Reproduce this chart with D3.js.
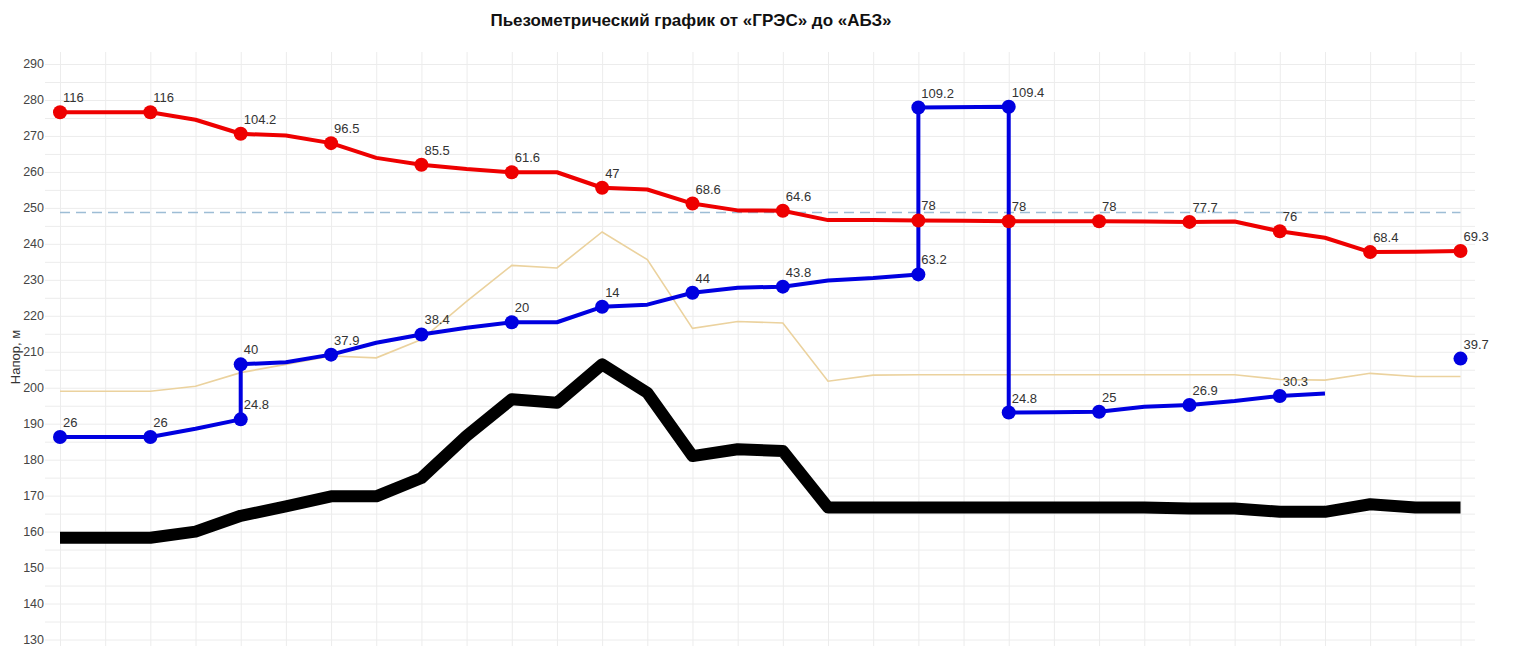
<!DOCTYPE html>
<html>
<head>
<meta charset="utf-8">
<script src="https://cdn.jsdelivr.net/npm/d3@7/dist/d3.min.js"></script>
<style>
  body { margin: 0; background: #fff; }
  text { font-family: "Liberation Sans", Arial, sans-serif; }
</style>
</head>
<body>
<svg id="chart"></svg>
<script>
// Пьезометрический график

// positions along the route (node index)
const nodes = d3.range(32);

// supply line head, m
const supplyHead = [276.6, 276.6, 276.6, 274.5, 270.6, 270.1, 268.0, 263.9, 262.0, 260.8,
                    259.9, 259.9, 255.6, 255.1, 251.2, 249.3, 249.2, 246.6, 246.6, 246.5,
                    246.4, 246.3, 246.3, 246.3, 246.2, 246.1, 246.2, 243.5, 241.7, 237.7,
                    237.8, 238.0];
const supplyMarks = [0, 2, 4, 6, 8, 10, 12, 14, 16, 19, 21, 23, 25, 27, 29, 31];
const supplyLabels = ["116", "116", "104.2", "96.5", "85.5", "61.6", "47", "68.6", "64.6",
                      "78", "78", "78", "77.7", "76", "68.4", "69.3"];

// return line head, m (repeated node = vertical jump, null = break)
const returnNodes = [0, 1, 2, 3, 4, 4, 5, 6, 7, 8, 9, 10, 11, 12, 13, 14, 15, 16, 17, 18, 19,
                     19, 21, 21, 22, 23, 24, 25, 26, 27, 28, 30, 31];
const returnHead = [186.3, 186.3, 186.3, 188.6, 191.2, 206.5, 207.1, 209.2, 212.5, 214.8, 216.7,
                    218.2, 218.2, 222.5, 223.1, 226.4, 227.8, 228.1, 229.8, 230.5, 231.5,
                    277.9, 278.1, 193.1, 193.2, 193.3, 194.7, 195.2, 196.3, 197.7, 198.4,
                    null, 208.1];
const returnMarks = [0, 2, 4, 5, 7, 9, 11, 13, 15, 17, 20, 21, 22, 23, 25, 27, 29, 32]; // positions in returnNodes
const returnLabels = ["26", "26", "24.8", "40", "37.9", "38.4", "20", "14", "44", "43.8",
                      "63.2", "109.2", "109.4", "24.8", "25", "26.9", "30.3", "39.7"];

// ground profile, m
const ground = [158.3, 158.3, 158.3, 160.0, 164.4, 167.0, 169.8, 169.8, 174.9, 186.6,
                196.8, 195.8, 206.5, 198.6, 181.0, 182.9, 182.4, 166.7, 166.7, 166.7,
                166.7, 166.7, 166.7, 166.7, 166.7, 166.4, 166.4, 165.5, 165.5, 167.6,
                166.7, 166.7];

// thin line (ground + building height), m
const buildings = [199.0, 199.0, 199.0, 200.4, 204.2, 206.5, 208.8, 208.3, 213.4, 224.0,
                   234.0, 233.3, 243.3, 235.6, 216.5, 218.4, 218.0, 201.8, 203.5, 203.6,
                   203.6, 203.6, 203.6, 203.6, 203.6, 203.6, 203.6, 202.3, 202.1, 204.0,
                   203.1, 203.1];

// static head level, m
const staticHead = 248.7;

const yTicks = d3.range(130, 300, 10);

const W = 1515, H = 646;
const plot = { left: 45, right: 1475, top: 52, bottom: 646 };

const svg = d3.select("#chart")
              .attr("width", W)
              .attr("height", H);

const x = d3.scaleLinear()
            .domain([0, 31])
            .range([60, 1460.5]);

const y = d3.scaleLinear()
            .domain([130, 290])
            .range([639.5, 64]);

// grid
svg.append("g")
   .attr("transform", `translate(${plot.left},0)`)
   .call(d3.axisLeft(y).tickValues(d3.range(130, 295, 5)).tickSize(-(plot.right - plot.left)).tickFormat(""))
   .call(g => g.select(".domain").remove())
   .selectAll("line")
   .attr("stroke", "#ececec");

svg.append("g")
   .attr("transform", `translate(0,${plot.top})`)
   .call(d3.axisTop(x).tickValues(nodes).tickSize(-(plot.bottom - plot.top)).tickFormat(""))
   .call(g => g.select(".domain").remove())
   .selectAll("line")
   .attr("stroke", "#ececec");

// y axis labels
svg.append("g")
   .attr("transform", "translate(47,0)")
   .call(d3.axisLeft(y).tickValues(yTicks).tickSize(0).tickPadding(3))
   .call(g => g.select(".domain").remove())
   .selectAll("text")
   .attr("fill", "#444")
   .attr("dy", "0.3em")
   .style("font-size", "12.5px");

svg.append("text")
   .attr("transform", "translate(20,357) rotate(-90)")
   .attr("text-anchor", "middle")
   .attr("fill", "#333")
   .style("font-size", "13px")
   .text("Напор, м");

// title
svg.append("text")
   .attr("x", 691)
   .attr("y", 26)
   .attr("text-anchor", "middle")
   .attr("fill", "#111")
   .style("font-size", "17px")
   .style("font-weight", "bold")
   .text("Пьезометрический график от «ГРЭС» до «АБЗ»");

const line = d3.line()
               .defined(d => d[1] !== null)
               .x(d => x(d[0]))
               .y(d => y(d[1]));

// static level
svg.append("path")
   .datum([[0, staticHead], [31, staticHead]])
   .attr("d", line)
   .attr("fill", "none")
   .attr("stroke", "#9dbdd5")
   .attr("stroke-width", 1.6)
   .attr("stroke-dasharray", "10,6");

// buildings line
svg.append("path")
   .datum(nodes.map((n, i) => [n, buildings[i]]))
   .attr("d", line)
   .attr("fill", "none")
   .attr("stroke", "#ebd29e")
   .attr("stroke-width", 1.6);

// ground
svg.append("path")
   .datum(nodes.map((n, i) => [n, ground[i]]))
   .attr("d", line)
   .attr("fill", "none")
   .attr("stroke", "#000")
   .attr("stroke-width", 12)
   .attr("stroke-linejoin", "round");

// return line
const returnData = returnNodes.map((n, i) => [n, returnHead[i]]);
svg.append("path")
   .datum(returnData)
   .attr("d", line)
   .attr("fill", "none")
   .attr("stroke", "#0000e0")
   .attr("stroke-width", 4)
   .attr("stroke-linejoin", "round");

svg.selectAll(".ret-dot")
   .data(returnMarks.map(i => returnData[i]))
   .enter().append("circle")
   .attr("class", "ret-dot")
   .attr("cx", d => x(d[0]))
   .attr("cy", d => y(d[1]))
   .attr("r", 7)
   .attr("fill", "#0000e0");

// supply line
const supplyData = nodes.map((n, i) => [n, supplyHead[i]]);
svg.append("path")
   .datum(supplyData)
   .attr("d", line)
   .attr("fill", "none")
   .attr("stroke", "#ee0000")
   .attr("stroke-width", 4)
   .attr("stroke-linejoin", "round");

svg.selectAll(".sup-dot")
   .data(supplyMarks.map(i => supplyData[i]))
   .enter().append("circle")
   .attr("class", "sup-dot")
   .attr("cx", d => x(d[0]))
   .attr("cy", d => y(d[1]))
   .attr("r", 7)
   .attr("fill", "#ee0000");

// value labels
svg.selectAll(".ret-label")
   .data(returnMarks.map((i, k) => [returnData[i], returnLabels[k]]))
   .enter().append("text")
   .attr("class", "ret-label")
   .attr("x", d => x(d[0][0]) + 3)
   .attr("y", d => y(d[0][1]) - 10)
   .attr("fill", "#333")
   .style("font-size", "13px")
   .text(d => d[1]);

svg.selectAll(".sup-label")
   .data(supplyMarks.map((i, k) => [supplyData[i], supplyLabels[k]]))
   .enter().append("text")
   .attr("class", "sup-label")
   .attr("x", d => x(d[0][0]) + 3)
   .attr("y", d => y(d[0][1]) - 10)
   .attr("fill", "#333")
   .style("font-size", "13px")
   .text(d => d[1]);
</script>
</body>
</html>
